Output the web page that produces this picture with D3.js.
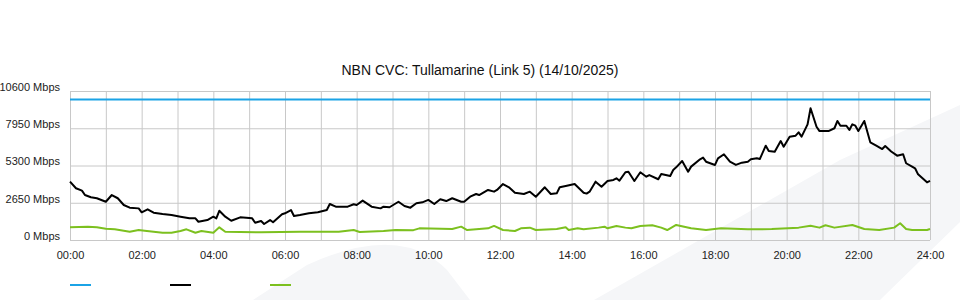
<!DOCTYPE html>
<html>
<head>
<meta charset="utf-8">
<script src="https://cdn.jsdelivr.net/npm/d3@7"></script>
<style>
  body { margin: 0; background: #fff; }
  svg { display: block; font-family: "Liberation Sans", Arial, sans-serif; }
  .grid line { stroke: #c8c8c8; stroke-width: 1; }
  .grid path { display: none; }
  .axis text { fill: #222; font-size: 11px; }
  .axis path, .axis line { display: none; }
</style>
</head>
<body>
<svg width="960" height="300"></svg>
<script>
// link capacity (blue)
var capacity = 10000;

// total traffic (black), Mbps
var trafficTimes = ["00:00","00:10","00:20","00:25","00:35","00:45","01:00","01:10","01:20","01:30","01:40","01:55",
  "02:00","02:10","02:20","02:35","02:50","03:05","03:20","03:30","03:35","03:50","04:00","04:05","04:10","04:20",
  "04:30","04:45","05:05","05:10","05:20","05:25","05:35","05:40","05:55","06:00","06:10","06:15","06:25","06:40",
  "06:55","07:05","07:10","07:15","07:25","07:45","07:55","08:00","08:10","08:25","08:40","08:45","08:55","09:10",
  "09:20","09:30","09:40","09:50","10:00","10:10","10:20","10:30","10:40","10:55","11:00","11:10","11:20","11:25",
  "11:40","11:50","11:55","12:05","12:15","12:25","12:40","12:50","13:00","13:15","13:25","13:35","13:40","13:50",
  "14:05","14:20","14:25","14:30","14:40","14:50","15:00","15:10","15:15","15:20","15:30","15:35","15:45","15:55",
  "16:05","16:10","16:25","16:30","16:45","16:50","16:55","17:05","17:15","17:20","17:35","17:40","17:45","18:00",
  "18:05","18:15","18:25","18:35","18:45","18:55","19:00","19:10","19:15","19:25","19:30","19:40","19:50","19:55",
  "20:05","20:15","20:20","20:25","20:35","20:40","20:50","20:55","21:10","21:20","21:25","21:30","21:40","21:45",
  "21:50","21:55","22:00","22:10","22:20","22:30","22:40","22:45","22:55","23:05","23:15","23:20","23:30","23:35",
  "23:40","23:55","24:00"];
var trafficMbps = [4150,3680,3510,3200,3040,2970,2720,3200,2970,2490,2300,2250,
  1970,2180,1940,1850,1780,1660,1540,1540,1300,1420,1660,1540,2080,1660,
  1370,1610,1540,1230,1350,1140,1420,1260,1830,1900,2130,1710,1780,1900,
  1970,2080,2130,2560,2370,2370,2540,2490,2800,2370,2250,2370,2330,2720,
  2420,2300,2610,2680,2850,2560,2900,2770,2970,2720,2720,3080,3270,3200,
  3560,3440,3560,3980,3750,3360,3270,3440,3080,3750,3270,3320,3750,3840,
  3980,3360,3300,3440,4150,3790,4200,4270,4390,4220,4820,4860,4200,4820,
  4500,4620,4320,4700,4550,4980,5170,5620,4860,5220,5740,5860,5570,5340,
  5810,6100,5570,5340,5500,5570,5740,5810,5760,6710,6330,6280,7040,6640,
  7350,7420,7660,7350,8230,9370,8060,7750,7750,7950,8470,8130,8130,7830,
  8230,8130,7750,8470,6950,6710,6470,6690,6300,6000,6100,5460,5220,5100,
  4670,4100,4200];

// green series, Mbps
var greenTimes = ["00:00","00:30","00:45","01:00","01:15","01:40","01:55","02:05","02:35","02:50","03:05","03:15",
  "03:30","03:40","04:00","04:10","04:20","04:45","05:20","06:25","07:30","07:55","08:05","08:45","09:05","09:35",
  "09:45","10:40","10:55","11:05","11:40","11:50","12:05","12:25","12:35","12:50","13:00","13:35","13:50","13:55",
  "14:10","14:20","14:45","14:55","15:00","15:15","15:30","15:40","15:55","16:15","16:30","16:40","16:55","17:20",
  "17:45","18:10","18:55","19:35","20:20","20:40","20:55","21:05","21:20","21:50","22:10","22:35","23:00","23:10",
  "23:20","23:30","23:55","24:00"];
var greenMbps = [900,950,900,800,760,590,710,660,520,520,640,760,
  520,640,520,900,590,570,550,590,590,710,570,640,710,700,
  830,780,950,710,830,1000,710,640,830,880,710,780,900,710,
  830,760,880,950,830,1000,880,830,1000,1050,880,710,1070,830,
  710,830,760,780,880,1020,880,1050,880,1070,780,710,880,1190,
  780,710,710,780];

var yTicks = [0, 2650, 5300, 7950, 10600];
var xTicks = [0, 120, 240, 360, 480, 600, 720, 840, 960, 1080, 1200, 1320, 1440];
var title = "NBN CVC: Tullamarine (Link 5) (14/10/2025)";

var svg = d3.select("svg"),
    width = +svg.attr("width"),
    height = +svg.attr("height");

var plotLeft = 70, plotRight = 930, plotTop = 91, plotBottom = 240;

function toMin(s) { var p = s.split(":"); return +p[0] * 60 + +p[1]; }

var x = d3.scaleLinear().domain([0, 1440]).range([plotLeft, plotRight]);
var y = d3.scaleLinear().domain([0, 10600]).range([plotBottom, plotTop]);

// faint background watermark
svg.append("path")
    .attr("d", "M253,300 L307,265 Q400,222 447,270 L470,300 Z")
    .attr("fill", "#f5f6f8");
svg.append("path")
    .attr("d", "M594,300 L840,160 L960,105 L960,222 L880,300 Z")
    .attr("fill", "#f5f6f8");

// title
svg.append("text")
    .attr("x", 480).attr("y", 75)
    .attr("text-anchor", "middle")
    .style("font-size", "14px")
    .style("fill", "#111")
    .text(title);

// grid: vertical every hour, horizontal at y ticks
svg.append("g")
    .attr("class", "grid")
    .attr("transform", "translate(0," + plotBottom + ")")
    .call(d3.axisBottom(x).tickValues(d3.range(0, 1441, 60)).tickSize(-(plotBottom - plotTop)).tickFormat(""));
svg.append("g")
    .attr("class", "grid")
    .attr("transform", "translate(" + plotLeft + ",0)")
    .call(d3.axisLeft(y).tickValues(yTicks).tickSize(-(plotRight - plotLeft)).tickFormat(""));

// axis labels
var yAxis = svg.append("g")
    .attr("class", "axis")
    .attr("transform", "translate(" + plotLeft + ",0)")
    .call(d3.axisLeft(y).tickValues(yTicks).tickSize(0).tickPadding(10)
      .tickFormat(function(d) { return d + " Mbps"; }));
yAxis.selectAll("text").attr("dy", "-0.05em");

svg.append("g")
    .attr("class", "axis")
    .attr("transform", "translate(0," + plotBottom + ")")
    .call(d3.axisBottom(x).tickValues(xTicks).tickSize(0).tickPadding(11)
      .tickFormat(function(d) {
        var h = Math.floor(d / 60), m = d % 60;
        return (h < 10 ? "0" : "") + h + ":" + (m < 10 ? "0" : "") + m;
      }));

var line = d3.line()
    .x(function(d) { return x(d.t); })
    .y(function(d) { return y(d.v); });

var traffic = trafficTimes.map(function(t, i) { return {t: toMin(t), v: trafficMbps[i]}; });
var green = greenTimes.map(function(t, i) { return {t: toMin(t), v: greenMbps[i]}; });
var cap = [{t: 0, v: capacity}, {t: 1440, v: capacity}];

svg.append("path").datum(cap)
    .attr("d", line).attr("fill", "none")
    .attr("stroke", "#1ba3e6").attr("stroke-width", 2);
svg.append("path").datum(green)
    .attr("d", line).attr("fill", "none")
    .attr("stroke", "#7cc01f").attr("stroke-width", 2)
    .attr("stroke-linejoin", "round");
svg.append("path").datum(traffic)
    .attr("d", line).attr("fill", "none")
    .attr("stroke", "#000").attr("stroke-width", 2)
    .attr("stroke-linejoin", "round");

// legend swatches
var legendColors = ["#1ba3e6", "#000", "#7cc01f"];
svg.selectAll(".legend")
  .data(legendColors)
  .enter().append("line")
    .attr("class", "legend")
    .attr("x1", function(d, i) { return 70 + i * 100; })
    .attr("x2", function(d, i) { return 91 + i * 100; })
    .attr("y1", 285).attr("y2", 285)
    .attr("stroke", function(d) { return d; })
    .attr("stroke-width", 2);
</script>
</body>
</html>
